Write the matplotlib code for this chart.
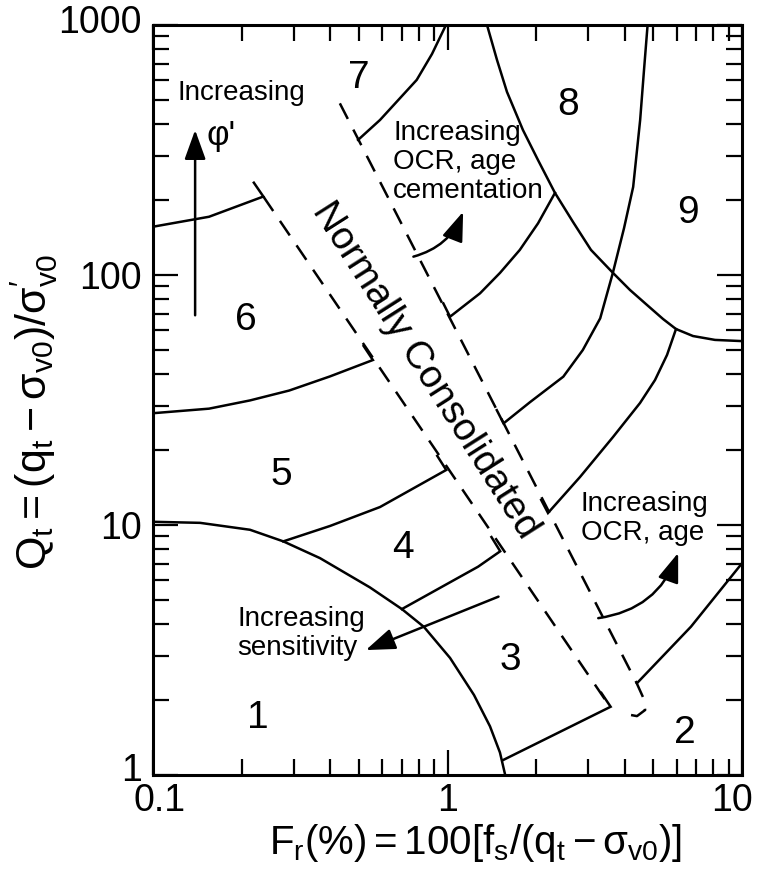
import matplotlib
matplotlib.use('Agg')
import matplotlib.pyplot as plt
from matplotlib.ticker import NullFormatter
from matplotlib.transforms import ScaledTranslation

plt.rcParams['font.family'] = ['Liberation Sans', 'DejaVu Sans']
plt.rcParams['mathtext.fontset'] = 'custom'
plt.rcParams['mathtext.rm'] = 'Liberation Sans'
plt.rcParams['mathtext.it'] = 'Liberation Sans:italic'
plt.rcParams['mathtext.bf'] = 'Liberation Sans:bold'
plt.rcParams['mathtext.sf'] = 'Liberation Sans'

# boundaries: Fr (%) and Qt
zone1_fr = [0.1, 0.1445, 0.2135, 0.277, 0.369, 0.545, 0.70, 0.832, 1.02, 1.23, 1.394, 1.507, 1.57]
zone1_qt = [10.3, 10.2, 9.57, 8.6, 7.37, 5.63, 4.61, 3.91, 2.94, 2.09, 1.566, 1.23, 1.0]

b67_fr = [0.1, 0.155, 0.237, 0.22]
b67_qt = [156, 171, 206, 234]

b56_fr = [0.1, 0.155, 0.2135, 0.29, 0.399, 0.558, 0.519]
b56_qt = [28.0, 29.2, 31.5, 34.5, 39.3, 45.7, 52]

b45_fr = [0.277, 0.399, 0.59, 0.99, 0.923]
b45_qt = [8.6, 9.91, 11.8, 16.6, 18.9]

b34_fr = [0.70, 1.27, 1.51, 1.41]
b34_qt = [4.61, 6.81, 7.85, 8.95]

b3_fr = [1.55, 3.58, 3.33]
b3_qt = [1.15, 1.875, 2.13]

b2_fr = [4.4, 6.71, 10]
b2_qt = [2.33, 3.92, 7.03]

b7_fr = [0.497, 0.59, 0.786, 0.886, 0.988]
b7_qt = [347, 417, 603, 766, 1000]

bcem_fr = [0.968, 1.02, 1.29, 1.508, 1.76, 2.03, 2.317]
bcem_qt = [77, 68.1, 84.5, 102, 126, 161, 213]

b89_fr = [1.362, 1.473, 1.592, 1.804, 2.03, 2.317, 2.668, 3.07, 3.648,
          4.166, 4.757, 5.392, 5.969, 6.818, 8.097, 10]
b89_qt = [1000, 724, 540, 380, 288, 213, 163, 126, 101.9,
          87.1, 75.9, 66.7, 60.8, 57.0, 55.0, 54.4]

b9v_fr = [1.47, 1.55, 1.906, 2.473, 2.88, 3.30, 3.64, 3.976, 4.27, 4.51, 4.648, 4.78]
b9v_qt = [28.8, 25.5, 31.0, 39.2, 50.1, 67.1, 101.6, 154, 225, 417, 661, 1000]

b4r_fr = [2.08, 2.194, 2.818, 3.648, 4.505, 5.065, 5.565, 5.969]
b4r_qt = [12.6, 11.17, 15.56, 22.49, 30.76, 38.0, 47.9, 60.8]

# normally consolidated band (dashed)
nc_left_fr = [0.237, 3.56]
nc_left_qt = [206, 1.876]
nc_right_fr = [0.431, 4.39, 4.61, 4.69, 4.40, 3.85]
nc_right_qt = [486, 2.33, 2.05, 1.82, 1.72, 1.77]

# arrows: (start, tip)
phi_arrow = [(0.139, 69), (0.139, 380)]
cem_arrow = [(0.766, 118.4), (1.13, 179)]
sens_arrow = [(1.49, 5.17), (0.528, 3.16)]
ocr_arrow = [(3.25, 4.24), (6.07, 7.73)]

zone_labels = ['1', '2', '3', '4', '5', '6', '7', '8', '9']
zone_fr = [0.227, 6.4, 1.64, 0.706, 0.272, 0.207, 0.50, 2.57, 6.56]
zone_qt = [1.54, 1.34, 2.63, 7.38, 14.5, 60.3, 560, 437, 161]

fig = plt.figure(figsize=(7.57, 8.75), dpi=100)
ax = fig.add_axes([153/757, 100/875, 589/757, 750/875])
ax.set_xscale('log')
ax.set_yscale('log')
ax.set_xlim(0.1, 10)
ax.set_ylim(1, 1000)

lw = 1.8
solid = [(zone1_fr, zone1_qt), (b67_fr, b67_qt), (b56_fr, b56_qt),
         (b45_fr, b45_qt), (b34_fr, b34_qt), (b3_fr, b3_qt), (b2_fr, b2_qt),
         (b7_fr, b7_qt), (bcem_fr, bcem_qt), (b89_fr, b89_qt),
         (b9v_fr, b9v_qt), (b4r_fr, b4r_qt)]
for fr, qt in solid:
    ax.plot(fr, qt, color='black', lw=lw, solid_joinstyle='miter')

for fr, qt in [(nc_left_fr, nc_left_qt), (nc_right_fr, nc_right_qt)]:
    ax.plot(fr, qt, color='black', lw=lw, ls=(0, (7, 4.8)))

def arrow(pts, rad=0.0):
    (x0, y0), (x1, y1) = pts
    ax.annotate('', xy=(x1, y1), xytext=(x0, y0),
                arrowprops=dict(arrowstyle='-|>,head_length=18,head_width=6.5',
                                mutation_scale=1, color='black', lw=lw,
                                shrinkA=0, shrinkB=0,
                                connectionstyle='arc3,rad=%s' % rad))

arrow(phi_arrow)
arrow(sens_arrow)
arrow(cem_arrow, 0.25)
arrow(ocr_arrow, 0.3)

for lab, x, y in zip(zone_labels, zone_fr, zone_qt):
    ax.text(x, y, lab, fontsize=28, ha='center', va='baseline')

ax.text(0.1207, 535, 'Increasing', fontsize=20, ha='left', va='center')
ax.text(0.152, 360, "\u03c6'", fontsize=25, ha='left', va='center')
ax.text(0.654, 283, 'Increasing\nOCR, age\ncementation', fontsize=20,
        ha='left', va='center', linespacing=1.15)
ax.text(2.83, 10.6, 'Increasing\nOCR, age', fontsize=20, ha='left',
        va='center', linespacing=1.15)
ax.text(0.193, 3.68, 'Increasing\nsensitivity', fontsize=20, ha='left',
        va='center', linespacing=1.15)
ax.text(0.839, 41.7, 'Normally Consolidated', fontsize=28, rotation=-57.5,
        rotation_mode='anchor', ha='center', va='center')

ax.set_xticks([0.1, 1, 10], ['0.1', '1', '10'])
ax.set_yticks([1, 10, 100, 1000], ['1', '10', '100', '1000'])
ax.xaxis.set_minor_formatter(NullFormatter())
ax.yaxis.set_minor_formatter(NullFormatter())
ax.tick_params(which='both', direction='in', top=True, right=True, width=1.6)
ax.tick_params(which='major', length=18, labelsize=27, pad=8)
ax.tick_params(axis='x', which='major', pad=6)
ax.tick_params(which='minor', length=11.5)
for s in ax.spines.values():
    s.set_linewidth(2.2)

xl = ax.get_xticklabels()
xl[0].set_transform(xl[0].get_transform() + ScaledTranslation(0.07, 0, fig.dpi_scale_trans))
xl[-1].set_transform(xl[-1].get_transform() + ScaledTranslation(-0.10, 0, fig.dpi_scale_trans))
yl = ax.get_yticklabels()
yl[0].set_transform(yl[0].get_transform() + ScaledTranslation(0, 0.08, fig.dpi_scale_trans))
yl[-1].set_transform(yl[-1].get_transform() + ScaledTranslation(0, 0.06, fig.dpi_scale_trans))

ax.set_xlabel(r'$\mathregular{F_r(\%) = 100[f_s/(q_t - \sigma_{v0})]}$', fontsize=29)
ax.xaxis.set_label_coords(0.547, -0.062)
ax.set_ylabel(r'$\mathregular{Q_t = (q_t - \sigma_{v0})/\sigma^{\prime}_{v0}}$', fontsize=31)
ax.yaxis.set_label_coords(-0.158, 0.484)

fig.savefig('out.png', dpi=100)
